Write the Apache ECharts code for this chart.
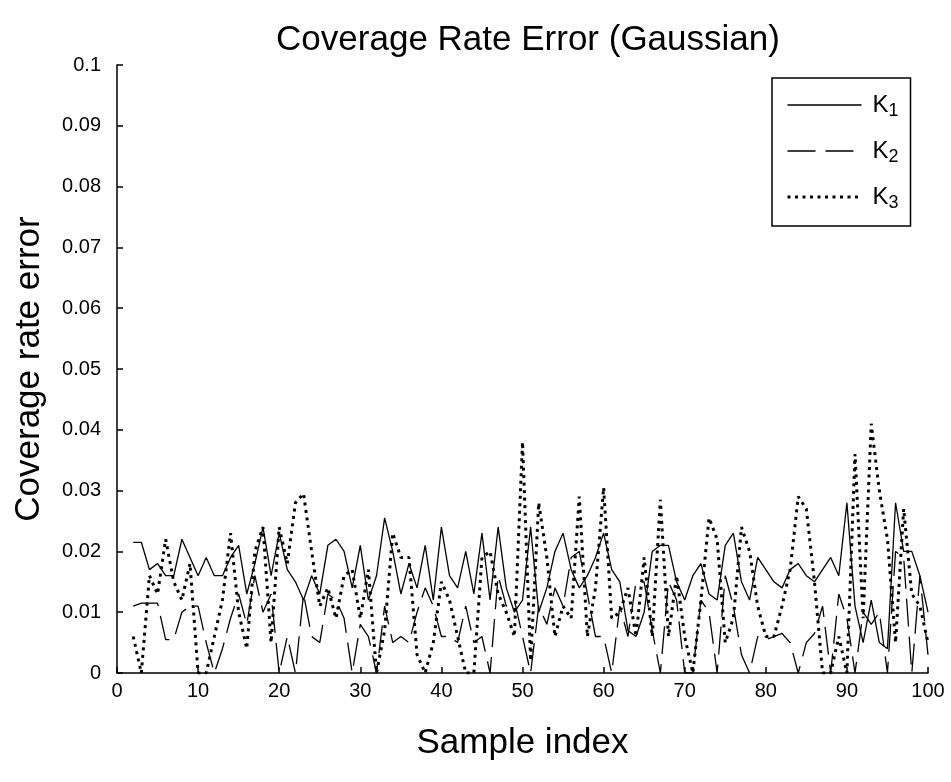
<!DOCTYPE html>
<html>
<head>
<meta charset="utf-8">
<script src="https://cdn.jsdelivr.net/npm/echarts@6/dist/echarts.min.js"></script>
<style>html,body{margin:0;padding:0;background:#fff;}#c{width:951px;height:782px;}</style>
</head>
<body>
<div id="c"></div>
<script>
const sampleIndex = [];
for (let i = 2; i <= 100; i++) sampleIndex.push(i);

const K1 = [0.0215,0.0215,0.017,0.018,0.016,0.016,0.022,0.019,0.016,0.019,
0.016,0.016,0.019,0.021,0.013,0.018,0.024,0.016,0.023,0.017,
0.015,0.012,0.016,0.013,0.021,0.022,0.020,0.014,0.021,0.012,
0.016,0.0255,0.020,0.013,0.018,0.014,0.021,0.012,0.024,0.016,
0.014,0.020,0.013,0.023,0.012,0.024,0.014,0.010,0.012,0.024,
0.010,0.014,0.020,0.023,0.017,0.014,0.016,0.019,0.023,0.017,
0.015,0.007,0.006,0.010,0.020,0.021,0.021,0.015,0.012,0.016,
0.018,0.013,0.012,0.021,0.023,0.015,0.012,0.019,0.017,0.015,
0.014,0.017,0.018,0.016,0.015,0.017,0.019,0.016,0.028,0.011,
0.005,0.012,0.005,0.004,0.028,0.020,0.020,0.016,0.010];

const K2 = [0.011,0.0115,0.0115,0.0115,0.0055,0.0055,0.010,0.011,0.011,0.005,
0.000,0.004,0.009,0.013,0.008,0.016,0.010,0.013,0.000,0.006,
0.000,0.013,0.006,0.005,0.013,0.012,0.009,0.000,0.008,0.006,
0.000,0.011,0.005,0.006,0.005,0.010,0.014,0.011,0.006,0.006,
0.005,0.011,0.005,0.006,0.000,0.016,0.011,0.012,0.006,0.000,
0.011,0.008,0.014,0.011,0.019,0.020,0.013,0.006,0.006,0.000,
0.011,0.006,0.015,0.015,0.007,0.000,0.015,0.012,0.000,0.000,
0.012,0.010,0.000,0.016,0.011,0.003,0.000,0.006,0.0055,0.006,
0.0065,0.005,0.000,0.005,0.0065,0.011,0.000,0.013,0.009,0.000,
0.010,0.008,0.010,0.000,0.020,0.019,0.000,0.016,0.003];

const K3 = [0.006,0.000,0.016,0.013,0.022,0.015,0.012,0.018,0.000,0.000,
0.006,0.012,0.023,0.010,0.004,0.020,0.024,0.005,0.024,0.018,
0.028,0.0295,0.020,0.011,0.014,0.009,0.016,0.017,0.009,0.017,
0.000,0.007,0.023,0.019,0.019,0.003,0.000,0.005,0.015,0.012,
0.006,0.000,0.000,0.019,0.020,0.013,0.010,0.006,0.038,0.002,
0.028,0.019,0.006,0.011,0.009,0.029,0.006,0.014,0.0305,0.009,
0.010,0.014,0.006,0.019,0.006,0.0285,0.006,0.016,0.006,0.000,
0.012,0.0255,0.022,0.005,0.009,0.024,0.020,0.011,0.006,0.006,
0.011,0.017,0.029,0.027,0.015,0.000,0.000,0.006,0.000,0.036,
0.009,0.041,0.030,0.022,0.005,0.027,0.013,0.011,0.005];

const xTicks = [0,10,20,30,40,50,60,70,80,90,100];
const yTicks = [0,0.01,0.02,0.03,0.04,0.05,0.06,0.07,0.08,0.09,0.1];

const FONT = 'Liberation Sans, Arial, sans-serif';
const pair = arr => sampleIndex.map((x, i) => [x, arr[i]]);
const dashK2 = [28, 10];
const dotK3 = [3, 4.5];

const chart = echarts.init(document.getElementById('c'), null, {renderer: 'canvas'});
chart.setOption({
  animation: false,
  backgroundColor: '#fff',
  title: {
    text: 'Coverage Rate Error (Gaussian)',
    left: 523, textAlign: 'center', top: 18,
    textStyle: {fontFamily: FONT, fontSize: 35, fontWeight: 'normal', color: '#000'}
  },
  grid: {left: 117, right: 23, top: 65, bottom: 109, containLabel: false},
  legend: {
    orient: 'vertical',
    left: 772, top: 78,
    width: 137,
    padding: [15, 12, 14, 14],
    itemWidth: 74, itemHeight: 20, itemGap: 19,
    borderColor: '#000', borderWidth: 1.5,
    backgroundColor: '#fff',
    selectedMode: false,
    itemStyle: {color: 'rgba(0,0,0,0)', borderWidth: 0, opacity: 0},
    data: [
      {name: 'K1', lineStyle: {color: '#000', width: 1.3, type: 'solid'}},
      {name: 'K2', lineStyle: {color: '#000', width: 1.3, type: dashK2}},
      {name: 'K3', lineStyle: {color: '#000', width: 3, type: dotK3, cap: 'butt'}}
    ],
    formatter: n => '{k|K}{s|' + n.slice(1) + '}',
    textStyle: {
      color: '#000', fontFamily: FONT, padding: [0, 0, 0, 6],
      rich: {
        k: {fontSize: 24, fontFamily: FONT, color: '#000'},
        s: {fontSize: 18, fontFamily: FONT, color: '#000', padding: [12, 0, 0, 0]}
      }
    }
  },
  xAxis: {
    type: 'value', min: 0, max: 100, interval: 10,
    name: 'Sample index', nameLocation: 'middle', nameGap: 53,
    nameTextStyle: {fontFamily: FONT, fontSize: 35, color: '#000'},
    axisLine: {show: true, onZero: false, lineStyle: {color: '#000', width: 1.5}},
    axisTick: {show: true, inside: true, length: 6, lineStyle: {color: '#000', width: 1.5}},
    axisLabel: {fontFamily: FONT, fontSize: 20, color: '#000', margin: 8,
      formatter: v => xTicks.includes(v) ? String(v) : ''},
    splitLine: {show: false}
  },
  yAxis: {
    type: 'value', min: 0, max: 0.1, interval: 0.01,
    name: 'Coverage rate error', nameLocation: 'middle', nameGap: 70, nameRotate: 90,
    nameTextStyle: {fontFamily: FONT, fontSize: 35, color: '#000'},
    axisLine: {show: true, onZero: false, lineStyle: {color: '#000', width: 1.5}},
    axisTick: {show: true, inside: true, length: 6, lineStyle: {color: '#000', width: 1.5}},
    axisLabel: {fontFamily: FONT, fontSize: 20, color: '#000', margin: 16,
      formatter: v => {
        const t = yTicks.find(y => Math.abs(y - v) < 1e-9);
        return t === undefined ? '' : String(+t.toFixed(2));
      }},
    splitLine: {show: false}
  },
  series: [
    {name: 'K1', type: 'line', data: pair(K1), symbol: 'none', silent: true,
      lineStyle: {color: '#000', width: 1.3, type: 'solid'}, itemStyle: {color: '#000'}},
    {name: 'K2', type: 'line', data: pair(K2), symbol: 'none', silent: true,
      lineStyle: {color: '#000', width: 1.3, type: dashK2}, itemStyle: {color: '#000'}},
    {name: 'K3', type: 'line', data: pair(K3), symbol: 'none', silent: true,
      lineStyle: {color: '#000', width: 3, type: dotK3, cap: 'butt'}, itemStyle: {color: '#000'}}
  ]
});
</script>
</body>
</html>
